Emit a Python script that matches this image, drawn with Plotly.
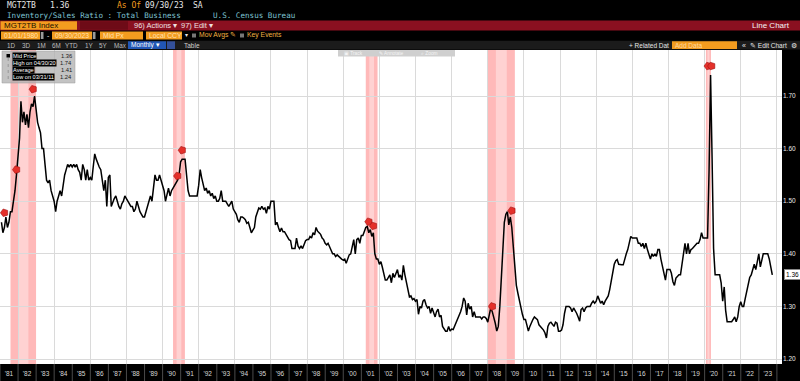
import plotly.graph_objects as go
import pandas as pd

# ---------------- data (monthly, month-end, Jan 1981 - Sep 2023) ----------------
ratio_1980s = [
    1.46, 1.44, 1.45, 1.47, 1.45, 1.46, 1.48, 1.48, 1.50, 1.52, 1.55, 1.58,   # 1981
    1.62, 1.69, 1.65, 1.67, 1.645, 1.665, 1.64, 1.67, 1.685, 1.68, 1.70, 1.675,  # 1982
    1.65, 1.64, 1.63, 1.60, 1.60, 1.57, 1.54, 1.535, 1.54, 1.52, 1.51, 1.50,  # 1983
    1.48, 1.50, 1.51, 1.52, 1.51, 1.53, 1.55, 1.56, 1.57, 1.565, 1.57, 1.565,  # 1984
    1.57, 1.565, 1.57, 1.56, 1.555, 1.54, 1.57, 1.56, 1.54, 1.56, 1.54, 1.545,  # 1985
    1.54, 1.565, 1.59, 1.58, 1.57, 1.565, 1.56, 1.54, 1.52, 1.54, 1.49, 1.545,  # 1986
    1.55, 1.49, 1.50, 1.505, 1.51, 1.50, 1.49, 1.485, 1.495, 1.50, 1.51, 1.505,  # 1987
    1.50, 1.495, 1.49, 1.49, 1.48, 1.485, 1.50, 1.49, 1.48, 1.475, 1.47, 1.47,  # 1988
    1.48, 1.49, 1.50, 1.51, 1.50, 1.53, 1.55, 1.54, 1.54, 1.55, 1.54, 1.53,  # 1989
]
ratio_1990s = [
    1.52, 1.50, 1.515, 1.525, 1.51, 1.52, 1.525, 1.53, 1.535, 1.54, 1.55, 1.575,  # 1990
    1.58, 1.58, 1.58, 1.55, 1.52, 1.51, 1.51, 1.51, 1.51, 1.51, 1.51, 1.53,  # 1991
    1.56, 1.545, 1.53, 1.52, 1.525, 1.515, 1.52, 1.51, 1.515, 1.505, 1.51, 1.50,  # 1992
    1.50, 1.505, 1.52, 1.50, 1.50, 1.50, 1.495, 1.49, 1.495, 1.50, 1.485, 1.48,  # 1993
    1.475, 1.465, 1.46, 1.47, 1.47, 1.468, 1.465, 1.458, 1.46, 1.45, 1.44, 1.445,  # 1994
    1.45, 1.47, 1.48, 1.487, 1.485, 1.49, 1.485, 1.487, 1.477, 1.49, 1.485, 1.50,  # 1995
    1.50, 1.50, 1.455, 1.46, 1.45, 1.442, 1.449, 1.442, 1.442, 1.436, 1.43, 1.427,  # 1996
    1.425, 1.41, 1.41, 1.41, 1.43, 1.415, 1.41, 1.415, 1.41, 1.42, 1.425, 1.427,  # 1997
    1.427, 1.433, 1.43, 1.44, 1.436, 1.45, 1.443, 1.44, 1.437, 1.43, 1.427, 1.42,  # 1998
    1.417, 1.42, 1.414, 1.408, 1.40, 1.40, 1.395, 1.398, 1.395, 1.392, 1.39, 1.388,  # 1999
]
ratio_2000s = [
    1.39, 1.382, 1.39, 1.398, 1.40, 1.417, 1.427, 1.40, 1.427, 1.43, 1.42, 1.435,  # 2000
    1.435, 1.442, 1.45, 1.452, 1.44, 1.446, 1.433, 1.44, 1.40, 1.39, 1.39, 1.38,  # 2001
    1.385, 1.375, 1.36, 1.35, 1.35, 1.355, 1.36, 1.345, 1.363, 1.355, 1.363, 1.37,  # 2002
    1.355, 1.36, 1.35, 1.378, 1.36, 1.345, 1.33, 1.318, 1.32, 1.313, 1.315, 1.31,  # 2003
    1.313, 1.285, 1.30, 1.297, 1.31, 1.313, 1.303, 1.297, 1.30, 1.287, 1.297, 1.29,  # 2004
    1.28, 1.29, 1.295, 1.28, 1.283, 1.262, 1.256, 1.253, 1.253, 1.262, 1.253, 1.257,  # 2005
    1.256, 1.262, 1.268, 1.275, 1.284, 1.29, 1.30, 1.316, 1.31, 1.284, 1.306, 1.295,  # 2006
    1.30, 1.28, 1.29, 1.28, 1.28, 1.28, 1.28, 1.276, 1.28, 1.28, 1.277, 1.27,  # 2007
    1.287, 1.297, 1.29, 1.28, 1.268, 1.253, 1.262, 1.30, 1.36, 1.42, 1.46, 1.475,  # 2008
    1.48, 1.455, 1.47, 1.45, 1.41, 1.375, 1.34, 1.325, 1.31, 1.30, 1.285, 1.275,  # 2009
]
ratio_2010s = [
    1.275, 1.265, 1.253, 1.262, 1.27, 1.275, 1.28, 1.278, 1.275, 1.265, 1.262, 1.258,  # 2010
    1.255, 1.25, 1.24, 1.262, 1.268, 1.27, 1.265, 1.262, 1.27, 1.268, 1.253, 1.253,  # 2011
    1.255, 1.265, 1.287, 1.30, 1.30, 1.30, 1.297, 1.29, 1.297, 1.293, 1.287, 1.28,  # 2012
    1.272, 1.294, 1.297, 1.29, 1.297, 1.30, 1.30, 1.30, 1.306, 1.31, 1.306, 1.31,  # 2013
    1.32, 1.313, 1.306, 1.31, 1.303, 1.31, 1.316, 1.32, 1.332, 1.35, 1.363, 1.38,  # 2014
    1.387, 1.389, 1.38, 1.379, 1.379, 1.379, 1.392, 1.40, 1.408, 1.42, 1.433, 1.43,  # 2015
    1.43, 1.43, 1.43, 1.42, 1.42, 1.414, 1.42, 1.41, 1.42, 1.408, 1.40, 1.39,  # 2016
    1.40, 1.395, 1.40, 1.395, 1.408, 1.408, 1.39, 1.376, 1.363, 1.35, 1.37, 1.37,  # 2017
    1.37, 1.363, 1.347, 1.34, 1.354, 1.357, 1.36, 1.36, 1.38, 1.40, 1.42, 1.40,  # 2018
    1.42, 1.40, 1.408, 1.41, 1.414, 1.417, 1.42, 1.42, 1.427, 1.44, 1.43, 1.43,  # 2019
]
ratio_2020s = [
    1.43, 1.43, 1.56, 1.74, 1.58, 1.41, 1.36, 1.36, 1.36, 1.36, 1.345, 1.31,  # 2020
    1.337, 1.293, 1.271, 1.271, 1.271, 1.271, 1.275, 1.28, 1.271, 1.28, 1.30, 1.309,  # 2021
    1.30, 1.30, 1.315, 1.33, 1.345, 1.355, 1.36, 1.37, 1.38, 1.37, 1.385, 1.40,  # 2022
    1.375, 1.385, 1.40, 1.40, 1.40, 1.40, 1.39, 1.37, 1.36,  # 2023
]
ratio = ratio_1980s + ratio_1990s + ratio_2000s + ratio_2010s + ratio_2020s
dates = pd.date_range("1981-01-31", periods=len(ratio), freq=pd.offsets.MonthEnd())

# recession shading
rec_starts = ["1981-08-01", "1990-07-31", "2001-03-31", "2007-12-31", "2020-01-27"]
rec_ends = ["1982-12-31", "1991-03-28", "2001-11-24", "2009-07-01", "2020-05-08"]

# key-event flags
event_dates = ["1981-03-31", "1981-11-30", "1982-10-31", "1990-10-31", "1991-01-31",
               "2001-05-31", "2001-08-31", "2008-03-31", "2009-04-30", "2020-03-10", "2020-05-20"]
event_values = [1.478, 1.56, 1.713, 1.548, 1.597, 1.461, 1.453, 1.30, 1.482, 1.757, 1.757]

# axis labels
years = list(range(1981, 2024))
xtick_vals = [f"{y}-07-01" for y in years]
xtick_text = [f"'{y % 100:02d}" for y in years]
ytick_vals = [1.20, 1.30, 1.40, 1.50, 1.60, 1.70]
ytick_text = ["1.20", "1.30", "1.40", "1.50", "1.60", "1.70"]

legend_labels = ["Mid Price", "High on 04/30/20", "Average", "Low on 03/31/11"]
legend_values = ["1.36", "1.74", "1.41", "1.24"]

# ---------------- layout helpers ----------------
W, H = 800, 381
PL, PR, PT, PB = 0, 782, 50, 364


def fx(x):
    return (x - PL) / (PR - PL)


def fy(y):
    return (PB - y) / (PB - PT)


shapes = []
annotations = []


def rect(x0, y0, x1, y1, fill, line=None, lw=0, layer="below"):
    shapes.append(dict(type="rect", xref="paper", yref="paper",
                       x0=fx(x0), x1=fx(x1), y0=fy(y1), y1=fy(y0),
                       fillcolor=fill, line=dict(width=lw, color=line or fill), layer=layer))


def text(x, y, s, color="#e6e6e6", size=8, family="Liberation Sans", anchor="left", bg=None):
    d = dict(xref="paper", yref="paper", x=fx(x), y=fy(y), text=s, showarrow=False,
             xanchor=anchor, yanchor="middle", font=dict(color=color, size=size, family=family),
             borderpad=0)
    if bg:
        d["bgcolor"] = bg
    annotations.append(d)


MONO = "DejaVu Sans Mono"
ORANGE = "#f39c1f"

# row 1 / row 2 header
text(6, 5.5, "MGT2TB", "#e6e6e6", 8, MONO)
text(49, 5.5, "1.36", "#e6e6e6", 8, MONO)
text(116, 5.5, "As Of", ORANGE, 8, MONO)
text(144, 5.5, "09/30/23", "#e6e6e6", 8, MONO)
text(192, 5.5, "SA", "#e6e6e6", 8, MONO)
text(6, 15.5, "Inventory/Sales Ratio : Total Business", "#7fc3d3", 7.6, MONO)
text(212, 15.5, "U.S. Census Bureau", "#7fc3d3", 7.6, MONO)

# row 3 red bar
rect(0, 20.5, 800, 30.5, "#8a1020")
rect(0.5, 21.3, 77, 29.7, ORANGE)
rect(80, 21.3, 128, 29.7, "#6e0b17")
text(3, 25.5, "MGT2TB Index", "#201000", 8)
text(133, 25.5, "96) Actions ▾", "#f0e0e0", 7.5)
text(180, 25.5, "97) Edit ▾", "#f0e0e0", 7.5)
text(791, 25.5, "Line Chart", "#f5f5f5", 8, anchor="right")

# row 4 controls
for (a, b, s) in [(1, 40, "01/01/1980"), (52, 92, "09/30/2023"), (100, 143, "Mid Px"), (146, 182, "Local CCY")]:
    rect(a, 31.5, b, 39.5, ORANGE)
    text(a + 1.5, 35.5, s, "#ffe2b3", 6.8)
rect(40.8, 32, 43.5, 39, "#9a9a9a")
rect(92.8, 32, 95.5, 39, "#9a9a9a")
text(46, 35.5, "-", "#e6e6e6", 7)
text(184, 35.5, "▾", "#e6e6e6", 6)
rect(192, 33.5, 196, 37.5, "#777777")
text(198, 35.5, "Mov Avgs ✎", "#f0b040", 6.8)
rect(240, 33.5, 244, 37.5, "#777777")
text(246, 35.5, "Key Events", "#f0b040", 6.8)

# row 5 toolbar
rect(0, 40.8, 800, 49.5, "#1b1b1b")
for (x, s) in [(6, "1D"), (21, "3D"), (36, "1M"), (51, "6M"), (64, "YTD"), (84, "1Y"), (98, "5Y"), (113, "Max")]:
    text(x, 45.2, s, "#bdbdbd", 6.3)
rect(128, 41.3, 166, 49, "#2156b5")
text(130, 45.2, "Monthly ▾", "#ffffff", 6.5)
rect(167, 41.3, 175, 49, "#33509a")
text(183, 45.2, "Table", "#cfcfcf", 6.5)
text(628, 45.2, "+ Related Dat", "#e6e6e6", 6.5)
rect(672, 41.3, 737, 49, ORANGE)
text(674, 45.2, "Add Data", "#ffd9a0", 6.5)
text(741, 45.2, "«", "#e6e6e6", 7)
text(749, 45.2, "✎ Edit Chart", "#e6e6e6", 6.5)
text(790, 45.2, "⚙", "#e6e6e6", 7)

# recession bands
for s, e in zip(rec_starts, rec_ends):
    shapes.append(dict(type="rect", xref="x", yref="paper", x0=s, x1=e, y0=0, y1=1,
                       fillcolor="#ffb9b9", line=dict(width=0), layer="below"))
    s_t, e_t = pd.Timestamp(s), pd.Timestamp(e)
    m0 = s_t + (e_t - s_t) * 0.3
    m1 = s_t + (e_t - s_t) * 0.7
    shapes.append(dict(type="rect", xref="x", yref="paper", x0=m0, x1=m1, y0=0, y1=1,
                       fillcolor="#ffd2d2", line=dict(width=0), layer="below"))

# x-axis strip separators
for y in range(1981, 2025):
    shapes.append(dict(type="line", xref="x", yref="paper", x0=f"{y}-01-01", x1=f"{y}-01-01",
                       y0=-17 / 314, y1=0, line=dict(color="#4a4a4a", width=1), layer="above"))

# top-center chart toolbar (faint)
rect(338, 50, 455, 56.5, "#cfcfcf", layer="above")
for (x, s) in [(343, "▣ Track"), (378, "✎ Annotate"), (420, "⌕ Zoom")]:
    text(x, 53.3, s, "#f4f4f4", 4.8)

# legend box
rect(2, 51, 75, 83, "rgba(175,175,175,0.75)", "#9a9a9a", 0.5, layer="above")
rect(6.5, 54, 10, 57.5, "#000000", layer="above")
shapes.append(dict(type="line", xref="paper", yref="paper", x0=fx(8.2), x1=fx(8.2), y0=fy(79), y1=fy(58),
                   line=dict(color="#777", width=0.6, dash="dot"), layer="above"))
for i, (lab, val) in enumerate(zip(legend_labels, legend_values)):
    yy = 55.8 + i * 7.2
    text(11.5, yy, lab, "#ffffff", 5.6, bg="#000000")
    text(73, yy, val, "#1a1a1a", 5.8, anchor="right")

# ---------------- figure ----------------
fig = go.Figure()
fig.add_trace(go.Scatter(x=dates, y=ratio, mode="lines", line=dict(color="#000000", width=1.5),
                         hoverinfo="skip", showlegend=False))
fig.add_trace(go.Scatter(x=event_dates, y=event_values, mode="markers",
                         marker=dict(symbol="pentagon", angle=-90, size=8, color="#e4302a",
                                     line=dict(color="#a01010", width=0.6)),
                         hoverinfo="skip", showlegend=False))

# last value tag on axis
annotations.append(dict(xref="paper", yref="y", x=1, y=ratio[-1], xanchor="left", yanchor="middle",
                        xshift=2, text=f"{ratio[-1]:.2f}", showarrow=False, bgcolor="#ffffff",
                        bordercolor="#8a8a8a", borderwidth=1, borderpad=1,
                        font=dict(color="#000000", size=6.5, family="Liberation Sans")))

fig.update_layout(
    width=W, height=H,
    margin=dict(l=PL, r=W - PR, t=PT, b=H - PB, pad=0),
    paper_bgcolor="#000000", plot_bgcolor="#ffffff",
    shapes=shapes, annotations=annotations,
    xaxis=dict(type="date", range=["1981-01-01", "2024-04-13"],
               tickmode="array", tickvals=xtick_vals, ticktext=xtick_text,
               showgrid=False, zeroline=False, showline=False, ticks="",
               ticklabelstandoff=4,
               tickfont=dict(color="#d8d8d8", size=6.5, family="Liberation Sans"),
               minor=dict(dtick="M24", tick0="1980-01-01", showgrid=True, gridcolor="#dadada",
                          gridwidth=1, ticks=""),
               fixedrange=True),
    yaxis=dict(side="right", range=[1.1905, 1.7875], tickmode="array",
               tickvals=ytick_vals, ticktext=ytick_text, showgrid=True, gridcolor="#dadada",
               gridwidth=1, zeroline=False, showline=False, ticks="",
               tickfont=dict(color="#e6e6e6", size=6.5, family="Liberation Sans"),
               fixedrange=True),
    showlegend=False,
)

fig.write_html("out.html")
